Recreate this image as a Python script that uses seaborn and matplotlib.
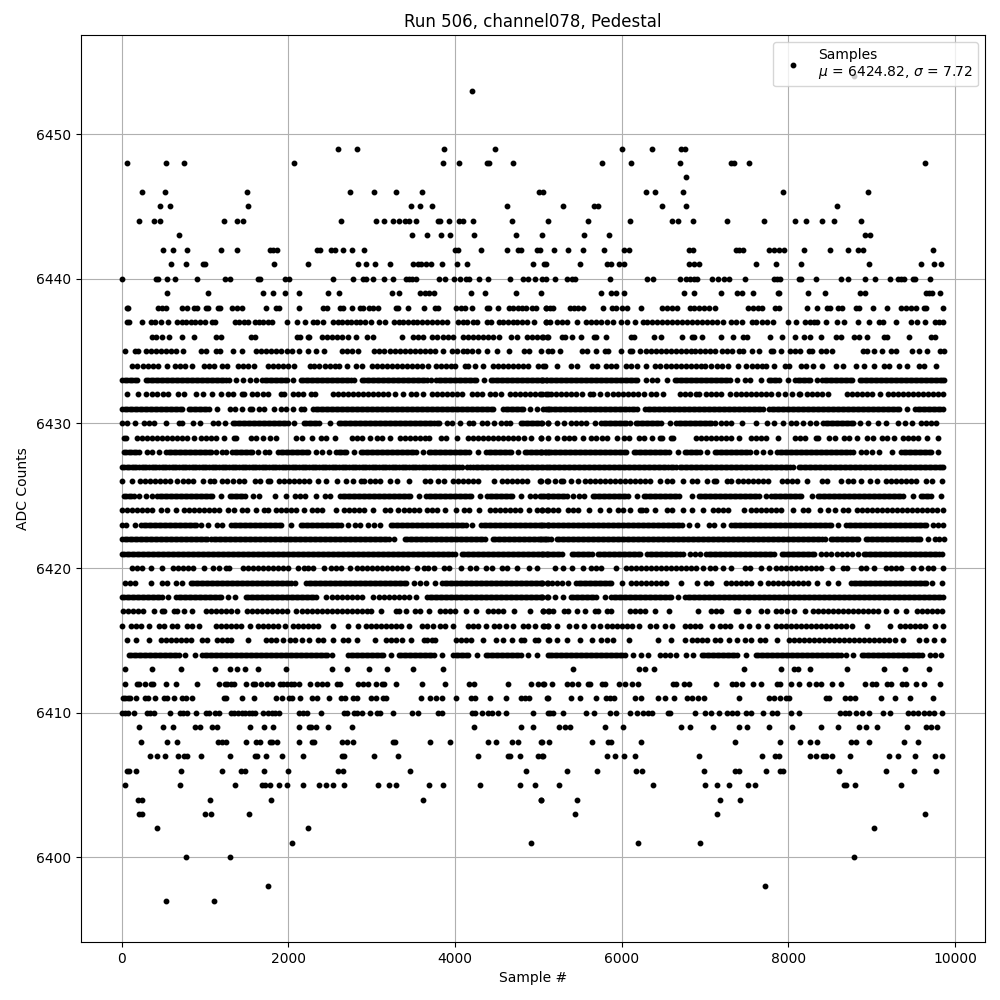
import pandas as pd
import matplotlib
matplotlib.use('Agg')
import matplotlib.pyplot as plt
import seaborn as sns

# sample numbers at each ADC level
s6454 = [8792]
s6453 = [4208]
s6449 = [2600, 2828, 3872, 4484, 6008, 6368, 6716, 6764]
s6448 = [68, 536, 752, 2072, 3860, 4052, 4388, 4412, 4700, 5768, 6116, 6704, 7316, 7352, 7532, 9644]
s6447 = [6776]
s6446 = [248, 524, 1508, 2744, 3032, 3296, 3608, 5012, 5060, 6296, 6404, 6740, 7940, 8960]
s6445 = [464, 584, 1520, 3476, 3576, 3728, 4628, 5300, 5672, 5720, 6488, 6776, 8588]
s6444 = [212, 392, 464, 1232, 1388, 1460, 2636, 3056, 3152, 3260, 3332, 3404, 3452, 3536, 3800, 3824, 3932, 4052, 4100, 4220, 4688, 5120,
         5600, 6104, 6608, 6680, 6860, 7268, 7712, 8084, 8216, 8408, 8552, 8876]
s6443 = [692, 3488, 3668, 3836, 3944, 4232, 4736, 5048, 5552, 5852, 8924, 8984]
s6442 = [500, 620, 788, 1196, 1388, 1784, 1820, 1868, 2348, 2384, 2516, 2564, 2660, 2768, 2912, 4004, 4040, 4316, 4628, 4760, 4796, 4988, 5024,
         5192, 5360, 5540, 5792, 6032, 6092, 6812, 6860, 7376, 7412, 7460, 7772, 7832, 7892, 7952, 8192, 8504, 8720, 8840, 8900, 9740]
s6441 = [596, 776, 980, 1004, 1832, 2240, 2840, 2936, 3044, 3224, 3500, 3560, 3596, 3656, 3716, 3848, 4028, 4148, 4940, 5072, 5096,
         5504, 5828, 5876, 5972, 6032, 6812, 6872, 6932, 7616, 7856, 8156, 8972, 9596, 9752, 9836]
s6440 = [8, 416, 440, 548, 644, 908, 1244, 1304, 1640, 1664, 1964, 2012, 2540, 2780, 2900, 2936, 3020, 3152, 3260, 3416, 3452, 3488, 3536, 3812, 3884,
         3992, 4064, 4136, 4172, 4292, 4400, 4664, 4820, 4880, 4964, 5048, 5096, 5204, 5348, 5408, 5444, 5864, 6308, 6380, 6704, 6776, 6824, 6872, 6908,
         7088, 7160, 7232, 7292, 7484, 7832, 7868, 7904, 8132, 8156, 8336, 8636, 8720, 8924, 9044, 9224, 9320, 9356, 9392, 9500, 9524, 9704]
s6439 = [548, 1040, 1700, 1820, 1964, 2132, 2480, 2612, 3248, 3332, 3584, 3644, 3692, 3752, 4196, 4364, 4736, 5036, 5756, 5876, 5936, 6032, 6752, 6872,
         7196, 7388, 7448, 7580, 7880, 7892, 8240, 8444, 8864, 8924, 9656, 9692, 9728, 9816]
s6438 = [60, 80, 440, 488, 532, 728, 788, 868, 904, 1008, 1040, 1160, 1184, 1328, 1380, 1440, 1728, 1848, 1892, 2132, 2416, 2464, 2616, 2652, 2760, 2856, 2892,
         2968, 3020, 3072, 3288, 3320, 3440, 3632, 3756, 3792, 4016, 4068, 4120, 4200, 4388, 4412, 4520, 4648, 4700, 4752, 4800, 4852, 4928, 4972, 5088,
         5096, 5140, 5180, 5376, 5428, 5480, 5540, 5780, 5880, 5936, 6008, 6068, 6236, 6488, 6548, 6608, 6660, 6816, 6872, 6928, 6988, 7048, 7120,
         7520, 7576, 7636, 7680, 7844, 7888, 8228, 8348, 8468, 8496, 8596, 8640, 8816, 8848, 9020, 9188, 9356, 9408, 9468, 9528, 9628, 9652, 9860]
s6437 = [60, 84, 248, 348, 400, 468, 556, 668, 720, 772, 828, 880, 940, 1004, 1088, 1116, 1356, 1412, 1468, 1520, 1600, 1648, 1700, 1752, 1808, 1980, 2108, 2204,
         2296, 2344, 2412, 2540, 2592, 2644, 2700, 2752, 2808, 2860, 2920, 2988, 3088, 3160, 3272, 3328, 3380, 3440, 3492, 3548, 3600, 3660, 3720, 3780, 3840, 3908,
         4040, 4092, 4148, 4212, 4268, 4380, 4428, 4528, 4580, 4636, 4692, 4748, 4800, 4860, 4948, 5088,
         5096, 5144, 5228, 5280, 5348, 5468, 5576, 5628, 5688, 5748, 5828, 5892, 5988, 6068, 6156, 6256, 6308, 6368, 6428, 6488, 6548, 6608, 6668, 6728, 6788,
         6848, 6908, 6968, 7028, 7088, 7148, 7220, 7308, 7368, 7440, 7564, 7616, 7680, 7748, 7812, 8000, 8088, 8196, 8256, 8312, 8348, 8456, 8588, 8668, 8840, 8968,
         9084, 9140, 9296, 9476, 9540, 9640, 9756, 9808, 9860]
s6436 = [360, 412, 480, 572, 728, 872, 1128, 1188, 1548, 1604, 2108, 2140, 2236, 2252, 2408, 2460, 2520, 2580, 2640, 2720, 2812, 2940, 3012, 3368, 3500, 3560, 3612,
         3728, 3780, 3860, 3920, 3972, 4100, 4160, 4212, 4280, 4340, 4400, 4460, 4532, 4676, 4748, 4868, 4920, 4980, 5052, 5112,
         5048, 5104, 5280, 5320, 5408, 5508, 5668, 5696, 5816, 6112, 6148, 6388, 6476, 6720, 6840, 6868, 6968, 7196, 7340, 7456, 7508, 7780, 7928, 8076, 8188, 8256,
         8396, 8576, 8628, 8792, 8848, 8940, 9144, 9180, 9448, 9712, 9764]
s6435 = [44, 156, 192, 296, 348, 408, 468, 528, 588, 652, 740, 956, 1012, 1128, 1184, 1340, 1448, 1616, 1672, 1728, 1788, 1848, 1908, 1980, 2040, 2132, 2240, 2336, 2428,
         2648, 2700, 2760, 2840, 3032, 3092, 3152, 3220, 3280, 3340, 3400, 3460, 3520, 3580, 3640, 3700, 3760, 3860, 3968, 4028, 4100, 4140, 4200, 4280, 4380, 4500, 4644,
         4828, 4892, 5028, 5120, 5168, 5256, 5528, 5588, 5696, 5796, 5840, 5988, 6096, 6128, 6224, 6288, 6348, 6408, 6468, 6528, 6588, 6648, 6708, 6768, 6828, 6880, 6936,
         7004, 7060, 7120, 7200, 7268, 7328, 7408, 7460, 7564, 7648, 7796, 7812, 7908, 8016, 8080, 8140, 8244, 8280, 8388, 8448, 8528, 8896, 8948, 9028, 9120, 9228, 9288,
         9484, 9568, 9668, 9816, 9864]
s6434 = [128, 188, 252, 320, 380, 440, 540, 636, 700, 760, 840, 992, 1052, 1104, 1208, 1268, 1400, 1460, 1520, 1592, 1760, 1820, 1880, 1940, 2000, 2072, 2256, 2312, 2372,
         2436, 2500, 2560, 2612, 2708, 2808, 2880, 3008, 3068, 3128, 3188, 3248, 3308, 3368, 3428, 3488, 3540, 3600, 3680, 3768, 3828, 3888, 3948, 4000, 4120, 4152, 4240, 4340,
         4460, 4520, 4580, 4640, 4700, 4760, 4820, 4872, 5000, 5080, 5056, 5220, 5396, 5460, 5648, 5700, 5808, 5868, 5936, 6056, 6108, 6188, 6288, 6404, 6464, 6528, 6588, 6648,
         6708, 6768, 6828, 6888, 6948, 7000, 7076, 7148, 7200, 7280, 7396, 7496, 7568, 7628, 7680, 7736, 7828, 7956, 8008, 8148, 8208, 8300, 8408, 8568, 8660, 8808, 8908, 9028,
         9148, 9208, 9328, 9428, 9564, 9628, 9768]
s6433 = [8, 68, 128, 180, 288, 348, 408, 468, 528, 588, 648, 708, 768, 828, 888, 948, 1008, 1068, 1128, 1188, 1248, 1292, 1368, 1452, 1536, 1612, 1688, 1748, 1808, 1868, 1928, 1988, 2060,
         2148, 2208, 2268, 2328, 2388, 2448, 2508, 2568, 2628, 2688, 2748, 2788, 2880, 2940, 3000, 3060, 3120, 3180, 3240, 3300, 3360, 3420, 3480, 3540, 3600, 3660, 3708,
         3776, 3836, 3896, 3956, 4016, 4076, 4136, 4196, 4256, 4348, 4428, 4488, 4548, 4608, 4668, 4728, 4788, 4848, 4908, 4968, 5028, 5088,
         5040, 5108, 5168, 5228, 5288, 5348, 5408, 5468, 5528, 5588, 5648, 5708, 5768, 5828, 5888, 5948, 6008, 6068, 6128, 6188, 6288, 6368, 6428, 6548,
         6636, 6696, 6756, 6816, 6876, 6936, 6996, 7056, 7116, 7176, 7236, 7296, 7384, 7476, 7536, 7668, 7764, 7824, 7884, 8000, 8084, 8144, 8204, 8264, 8340,
         8408, 8468, 8528, 8588, 8648, 8708, 8768, 8856, 8916, 8976, 9036, 9096, 9156, 9216, 9276, 9336, 9396, 9456, 9516, 9576, 9636, 9696, 9756, 9816, 9868,
         38, 98, 158, 318, 378, 438, 498, 558, 618, 678, 738, 798, 858, 918, 978, 1038, 1098, 1158, 1218, 1718, 1778, 1838, 1898, 1958, 2178, 2238, 2298, 2358, 2418, 2478, 2538, 2598, 2658, 2718,
         2910, 2970, 3030, 3090, 3150, 3210, 3270, 3330, 3390, 3450, 3510, 3570, 3630, 3806, 3866, 3926, 3986, 4046, 4106, 4166, 4226, 4458, 4518, 4578, 4638, 4698, 4758, 4818, 4878, 4938, 4998, 5058,
         5138, 5198, 5258, 5318, 5378, 5438, 5498, 5558, 5618, 5678, 5738, 5798, 5858, 5918, 5978, 6038, 6098, 6158, 6666, 6726, 6786, 6846, 6906, 6966, 7026, 7086, 7146, 7206, 7266, 7794, 7854,
         8114, 8174, 8234, 8438, 8498, 8558, 8618, 8678, 8738, 8886, 8946, 9006, 9066, 9126, 9186, 9246, 9306, 9366, 9426, 9486, 9546, 9606, 9666, 9726, 9786, 9846]
s6432 = [68, 200, 296, 360, 428, 500, 560, 680, 748, 888, 972, 1080, 1188, 1280, 1340, 1440, 1472, 1568, 1620, 1700, 1760, 1916, 1952, 2056, 2120, 2180, 2268, 2320,
         2540, 2600, 2660, 2720, 2780, 2840, 2900, 2960, 3020, 3080, 3140, 3200, 3284, 3380, 3468, 3532, 3620, 3720, 3780, 3840, 3900, 3960, 4020, 4080, 4200, 4260, 4320,
         4420, 4480, 4552, 4656, 4716, 4776, 4836, 4896, 4956, 5016, 5112, 5040, 5096, 5156, 5216, 5276, 5336, 5396, 5456, 5520, 5616, 5652, 5740, 5828, 5900, 5960, 6020, 6080,
         6140, 6200, 6268, 6348, 6408, 6500, 6696, 6756, 6820, 6896, 6932, 7016, 7076, 7136, 7196, 7300, 7376, 7436, 7496, 7556, 7616, 7676, 7736, 7796, 7880, 7964, 8040, 8124, 8140,
         8228, 8288, 8348, 8408, 8480, 8708, 8768, 8828, 8888, 8948, 9008, 9100, 9196, 9256, 9316, 9376, 9436, 9496, 9556, 9616, 9676, 9736, 9796, 9860]
s6431 = [8, 68, 128, 188, 248, 308, 368, 428, 488, 548, 608, 668, 728, 808, 868, 928, 988, 1048, 1140, 1296, 1356, 1440, 1536, 1560, 1648, 1708, 1824, 1908, 1968, 2052, 2148, 2184,
         2300, 2360, 2420, 2480, 2540, 2600, 2660, 2720, 2780, 2840, 2900, 2960, 3020, 3080, 3140, 3200, 3260, 3320, 3380, 3440, 3500, 3560, 3620, 3680, 3740, 3800, 3860, 3920, 3980,
         4040, 4100, 4160, 4220, 4280, 4340, 4400, 4460, 4580, 4640, 4700, 4760, 4820, 4900, 4980, 5060, 5120,
         5096, 5156, 5216, 5276, 5336, 5396, 5456, 5516, 5576, 5636, 5696, 5756, 5816, 5876, 5936, 5996, 6056, 6120, 6180, 6284, 6344, 6404, 6464, 6524, 6584, 6644, 6704, 6764, 6824,
         6884, 6944, 7004, 7064, 7124, 7184, 7244, 7304, 7364, 7424, 7484, 7544, 7604, 7664, 7700, 7772, 7832, 7892, 7952, 8012, 8072, 8132, 8192, 8252, 8312, 8372, 8432, 8492, 8552,
         8612, 8672, 8732, 8792, 8852, 8912, 8972, 9032, 9092, 9152, 9212, 9272, 9332, 9420, 9524, 9584, 9644, 9704, 9764, 9824, 9860,
         38, 98, 158, 218, 278, 338, 398, 458, 518, 578, 638, 698, 838, 898, 958, 1018, 2330, 2390, 2450, 2510, 2570, 2630, 2690, 2750, 2810, 2870, 2930, 2990, 3050, 3110, 3170, 3230, 3290, 3350, 3410, 3470,
         3530, 3590, 3650, 3710, 3770, 3830, 3890, 3950, 4010, 4070, 4130, 4190, 4250, 4310, 4370, 4430, 4610, 4670, 4730, 4790, 5126, 5186, 5246, 5306, 5366, 5426, 5486, 5546, 5606, 5666, 5726, 5786, 5846,
         5906, 5966, 6026, 6088, 6150, 6314, 6374, 6434, 6494, 6554, 6614, 6674, 6734, 6794, 6854, 6914, 6974, 7034, 7094, 7154, 7214, 7274, 7334, 7394, 7454, 7514, 7574, 7634, 7802, 7862, 7922, 7982, 8042,
         8102, 8162, 8222, 8282, 8342, 8402, 8462, 8522, 8582, 8642, 8702, 8762, 8822, 8882, 8942, 9002, 9062, 9122, 9182, 9242, 9302, 9554, 9614, 9674, 9734, 9794]
s6430 = [8, 68, 160, 268, 328, 388, 528, 688, 720, 856, 944, 1096, 1156, 1240, 1336, 1396, 1456, 1516, 1576, 1636, 1696, 1756, 1816, 1876, 1936, 1996, 2072, 2188, 2248, 2308, 2368, 2504,
         2608, 2668, 2728, 2788, 2848, 2908, 2968, 3028, 3088, 3148, 3208, 3268, 3328, 3388, 3448, 3508, 3568, 3628, 3688, 3748, 3812, 3900, 3960, 4064, 4168, 4212, 4328, 4388, 4464,
         4548, 4608, 4664, 4788, 4848, 4908, 4968, 5028, 5112, 5040, 5120, 5228, 5308, 5388, 5448, 5508, 5568, 5680, 5756, 5816, 5876, 5936, 5996, 6056, 6100, 6168, 6228, 6288, 6348,
         6408, 6468, 6580, 6656, 6716, 6776, 6836, 6896, 6956, 7016, 7076, 7120, 7196, 7256, 7316, 7448, 7616, 7740, 7828, 7932, 8028, 8088, 8172, 8256, 8332, 8420, 8480, 8540, 8600,
         8660, 8720, 8780, 8860, 8956, 9080, 9176, 9320, 9396, 9480, 9596, 9656, 9716, 9768,
         1366, 1426, 1486, 1546, 1606, 1666, 1726, 1786, 1846, 1906, 1966, 2218, 2278, 2338, 2638, 2698, 2758, 2818, 2878, 2938, 2998, 3058, 3118, 3178, 3238, 3298, 3358, 3418, 3478, 3538, 3598, 3658, 3718, 3780,
         4818, 4878, 4938, 4998, 5786, 5846, 5906, 5966, 6026, 6198, 6258, 6318, 6378, 6438, 6686, 6746, 6806, 6866, 6926, 6986, 7046, 8450, 8510, 8570, 8630, 8690, 8750]
s6429 = [28, 52, 180, 240, 300, 360, 420, 480, 540, 600, 660, 720, 780, 872, 956, 1016, 1076, 1136, 1224, 1348, 1372, 1556, 1616, 1692, 1780, 1852, 2088, 2168, 2284, 2388, 2448, 2560,
         2760, 2820, 2880, 2984, 3068, 3128, 3224, 3336, 3396, 3456, 3516, 3576, 3636, 3692, 3828, 3888, 4024, 4160, 4220, 4280, 4340, 4400, 4460, 4520, 4580, 4640, 4700, 4760, 4832, 4908, 5032,
         5028, 5116, 5220, 5308, 5368, 5428, 5540, 5628, 5688, 5760, 5828, 5948, 6028, 6088, 6204, 6264, 6360, 6456, 6480, 6588, 6612, 6896, 6956, 7016, 7076, 7136, 7196, 7256, 7316, 7408,
         7556, 7616, 7676, 7736, 7880, 8084, 8144, 8204, 8336, 8360, 8484, 8560, 8668, 8728, 8828, 8948, 9020, 9124, 9184, 9272, 9376, 9436, 9496, 9556, 9668, 9792]
s6428 = [28, 88, 148, 208, 304, 368, 452, 536, 596, 656, 716, 776, 836, 896, 956, 1016, 1076, 1132, 1208, 1252, 1328, 1388, 1448, 1508, 1568, 1632, 1716, 1772, 1880, 1940, 2000, 2060, 2120, 2180, 2240, 2332,
         2408, 2492, 2576, 2636, 2696, 2792, 2868, 2928, 2988, 3048, 3108, 3168, 3228, 3288, 3348, 3408, 3468, 3528, 3612, 3688, 3748, 3808, 3868, 3928, 3988, 4048, 4108, 4168, 4280,
         4376, 4436, 4496, 4556, 4616, 4676, 4752, 4840, 4900, 4960, 5020, 5080, 5120, 5036, 5096, 5156, 5216, 5276, 5336, 5396, 5456, 5516, 5576, 5636, 5696, 5756, 5816, 5876, 5936, 5996, 6056,
         6148, 6208, 6268, 6328, 6388, 6448, 6508, 6568, 6680, 6756, 6816, 6876, 6936, 7028, 7116, 7176, 7236, 7296, 7356, 7416, 7476, 7536, 7612, 7696, 7780,
         7868, 7928, 7988, 8048, 8108, 8168, 8228, 8288, 8348, 8408, 8468, 8528, 8588, 8648, 8708, 8772, 8868, 8928, 9008, 9088, 9240, 9356, 9416, 9476, 9536, 9596, 9656, 9716, 9800,
         58, 118, 178, 566, 626, 686, 746, 806, 866, 926, 986, 1046, 1358, 1418, 1478, 1538, 1910, 1970, 2030, 2090, 2150, 2210, 2606, 2666, 2898, 2958, 3018, 3078, 3138, 3198, 3258, 3318, 3378, 3438, 3498,
         3718, 3778, 3838, 3898, 3958, 4018, 4078, 4138, 4406, 4466, 4526, 4586, 4646, 4870, 4930, 4990, 5050, 5126, 5186, 5246, 5306, 5366, 5426, 5486, 5546, 5606, 5666, 5726, 5786, 5846, 5906, 5966, 6026,
         6178, 6238, 6298, 6358, 6418, 6478, 6538, 6786, 6846, 6906, 7146, 7206, 7266, 7326, 7386, 7446, 7506, 7898, 7958, 8018, 8078, 8138, 8198, 8258, 8318, 8378, 8438, 8498, 8558, 8618, 8678, 8738,
         9386, 9446, 9506, 9566, 9626, 9686]
s6427 = [4, 60, 120, 176, 240, 296, 360, 416, 480, 536, 600, 656, 720, 776, 840, 896, 960, 1016, 1080, 1136, 1200, 1256, 1320, 1376, 1440, 1496, 1560, 1616, 1680, 1736, 1800, 1856, 1920, 1976,
         2040, 2096, 2160, 2216, 2280, 2336, 2400, 2456, 2520, 2576, 2640, 2696, 2760, 2816, 2880, 2936, 3000, 3056, 3120, 3176, 3240, 3296, 3360, 3416, 3480, 3536, 3600, 3656, 3720, 3776, 3840, 3896, 3960, 4016, 4080,
         4144, 4220, 4276, 4340, 4396, 4460, 4516, 4580, 4636, 4700, 4756, 4820, 4876, 4940, 4996, 5060, 5116, 5176, 5236, 5296, 5356, 5416, 5476, 5536, 5596, 5656, 5716, 5776, 5836, 5896, 5956, 6016,
         6076, 6136, 6196, 6256, 6316, 6376, 6436, 6496, 6556, 6620, 6652, 6696, 6756, 6816, 6876, 6936, 6996, 7056, 7116, 7176, 7236, 7296, 7356, 7416, 7476, 7536, 7596, 7656, 7716, 7776, 7836, 7896, 7956, 8016, 8060,
         8124, 8184, 8244, 8304, 8364, 8424, 8484, 8544, 8604, 8664, 8724, 8784, 8844, 8904, 8964, 9024, 9084, 9144, 9204, 9264, 9324, 9384, 9444, 9504, 9564, 9624, 9684, 9744, 9804, 9860,
         32, 90, 148, 208, 268, 328, 388, 448, 508, 568, 628, 688, 748, 808, 868, 928, 988, 1048, 1108, 1168, 1228, 1288, 1348, 1408, 1468, 1528, 1588, 1648, 1708, 1768, 1828, 1888, 1948, 2008, 2068, 2128, 2188, 2248,
         2308, 2368, 2428, 2488, 2548, 2608, 2668, 2728, 2788, 2848, 2908, 2968, 3028, 3088, 3148, 3208, 3268, 3328, 3388, 3448, 3508, 3568, 3628, 3688, 3748, 3808, 3868, 3928, 3988, 4048, 4180, 4248, 4308, 4368, 4428,
         4488, 4548, 4608, 4668, 4728, 4788, 4848, 4908, 4968, 5028, 5088, 5146, 5206, 5266, 5326, 5386, 5446, 5506, 5566, 5626, 5686, 5746, 5806, 5866, 5926, 5986, 6046, 6106, 6166, 6226, 6286, 6346, 6406, 6466, 6526, 6588,
         6726, 6786, 6846, 6906, 6966, 7026, 7086, 7146, 7206, 7266, 7326, 7386, 7446, 7506, 7566, 7626, 7686, 7746, 7806, 7866, 7926, 7986, 8154, 8214, 8274, 8334, 8394, 8454, 8514, 8574, 8634, 8694, 8754, 8814, 8874,
         8934, 8994, 9054, 9114, 9174, 9234, 9294, 9354, 9414, 9474, 9534, 9594, 9654, 9714, 9774, 9834]
s6426 = [8, 120, 216, 276, 336, 396, 456, 516, 576, 664, 740, 800, 860, 972, 1056, 1104, 1200, 1260, 1332, 1408, 1464, 1596, 1656, 1756, 1780, 1888, 1948, 2008, 2068, 2128, 2188, 2248, 2352, 2456, 2584, 2696, 2780,
         2868, 2904, 2980, 3040, 3100, 3224, 3308, 3452, 3640, 3700, 3792, 3872, 3980, 4040, 4100, 4160, 4220, 4280, 4472, 4568, 4628, 4688, 4748, 4808, 4868, 5032, 5120, 5020, 5108, 5200, 5276, 5300, 5388, 5480,
         5564, 5624, 5684, 5744, 5804, 5864, 5924, 5984, 6044, 6104, 6164, 6224, 6284, 6344, 6460, 6548, 6608, 6740, 6844, 6900, 7024, 7108, 7132, 7260, 7308, 7396, 7456, 7516, 7576, 7636, 7696, 7760,
         7924, 7984, 8044, 8104, 8220, 8408, 8468, 8628, 8716, 8776, 8868, 8976, 9060, 9176, 9236, 9296, 9356, 9416, 9476, 9536, 9652, 9724, 9840]
s6425 = [28, 88, 148, 208, 292, 368, 428, 488, 548, 608, 668, 728, 788, 848, 908, 968, 1028, 1088, 1192, 1296, 1356, 1416, 1476, 1572, 1652, 1836, 1972, 2076, 2136, 2196, 2332, 2436, 2504,
         2624, 2684, 2744, 2804, 2864, 2924, 2984, 3044, 3104, 3164, 3224, 3284, 3344, 3404, 3464, 3564, 3656, 3716, 3776, 3836, 3896, 3956, 4016, 4076, 4136, 4196, 4304,
         4388, 4448, 4508, 4568, 4628, 4688, 4792, 4896, 4956, 5016, 5112, 5040, 5100, 5160, 5220, 5280, 5340, 5420, 5484, 5548, 5656, 5716, 5776, 5836, 5896, 5956, 6016, 6076, 6188,
         6268, 6328, 6388, 6448, 6508, 6568, 6628, 6688, 6840, 6924, 6984, 7044, 7104, 7164, 7224, 7284, 7344, 7404, 7464, 7524, 7584, 7644, 7732, 7796, 7856, 7916, 7976, 8036, 8096, 8156, 8280,
         8356, 8416, 8476, 8536, 8596, 8656, 8716, 8776, 8836, 8896, 8956, 9016, 9076, 9136, 9196, 9256, 9316, 9376, 9500, 9588, 9648, 9708, 9828,
         58, 118, 458, 518, 578, 638, 698, 758, 818, 878, 938, 998, 1058, 1326, 1386, 1446, 2654, 2714, 2774, 2834, 2894, 2954, 3014, 3074, 3134, 3194, 3254, 3314, 3374, 3434, 3686, 3746, 3806, 3866, 3926, 3986, 4046, 4106, 4166,
         4418, 4478, 4538, 4598, 4658, 5070, 5130, 5190, 5250, 5310, 5686, 5746, 5806, 5866, 5926, 5986, 6046, 6298, 6358, 6418, 6478, 6538, 6598, 6658, 6954, 7014, 7074, 7134, 7194, 7254, 7314, 7374, 7434, 7494, 7554, 7614,
         7826, 7886, 7946, 8006, 8066, 8126, 8386, 8446, 8506, 8566, 8626, 8686, 8746, 8806, 8866, 8926, 8986, 9046, 9106, 9166, 9226, 9286, 9346, 9618, 9678]
s6424 = [8, 68, 128, 188, 248, 308, 368, 472, 548, 652, 752, 812, 872, 932, 992, 1052, 1112, 1172, 1272, 1348, 1440, 1500, 1608, 1704, 1760, 1848, 1908, 1968, 2028, 2088, 2192, 2280, 2340, 2400, 2576,
         2664, 2724, 2784, 2844, 2904, 3012, 3156, 3216, 3320, 3392, 3452, 3512, 3572, 3664, 3728, 3788, 3880, 4016, 4108, 4168, 4292, 4416, 4476, 4536, 4596, 4656, 4716, 4776, 4892, 4988, 5048, 5112,
         5040, 5108, 5180, 5240, 5356, 5416, 5476, 5612, 5736, 5852, 5956, 6016, 6100, 6216, 6240, 6296, 6396, 6548, 6608, 6740, 6840, 6976, 7096, 7156, 7216, 7276, 7468, 7556, 7616, 7676, 7736, 7796, 7856, 7916, 8060,
         8176, 8236, 8380, 8476, 8560, 8656, 8720, 8828, 8888, 8948, 9008, 9068, 9128, 9188, 9248, 9308, 9368, 9428, 9488, 9548, 9608, 9668, 9728, 9788, 9852]
s6423 = [0, 56, 160, 236, 296, 356, 416, 476, 536, 596, 656, 716, 776, 836, 896, 956, 1040, 1148, 1200, 1316, 1376, 1436, 1496, 1556, 1616, 1676, 1736, 1796, 1856, 1916, 2032,
         2148, 2208, 2268, 2328, 2388, 2448, 2508, 2568, 2628, 2712, 2800, 2860, 2952, 3028, 3104, 3228, 3288, 3348, 3408, 3468, 3528, 3588, 3648, 3708, 3768, 3828, 3888, 3948, 4008, 4068, 4128, 4200,
         4316, 4376, 4436, 4496, 4556, 4616, 4676, 4736, 4796, 4856, 4916, 4976, 5036, 5112, 5040, 5100, 5160, 5220, 5280, 5340, 5400, 5460, 5520, 5580, 5640, 5700, 5760, 5820, 5880, 5940, 6000, 6060, 6120, 6180,
         6240, 6300, 6360, 6420, 6480, 6540, 6600, 6660, 6720, 6812, 6908, 7044, 7104, 7220, 7316, 7376, 7436, 7496, 7556, 7616, 7676, 7736, 7796, 7856, 7916, 7976, 8036, 8096, 8156, 8216, 8276, 8336, 8396, 8456, 8516, 8600,
         8696, 8756, 8816, 8876, 8936, 8996, 9056, 9116, 9176, 9236, 9296, 9356, 9416, 9476, 9536, 9596, 9656, 9740, 9796, 9856,
         266, 326, 386, 446, 506, 566, 626, 686, 746, 806, 866, 1346, 1406, 1466, 1526, 1586, 1646, 1706, 1766, 1826, 1886, 2178, 2238, 2298, 2358, 2418, 2478, 2538, 2598, 3258, 3318, 3378, 3438, 3498, 3558, 3618, 3678, 3738,
         3798, 3858, 3918, 3978, 4038, 4098, 4346, 4406, 4466, 4526, 4586, 4646, 4706, 4766, 4826, 4886, 4946, 5006, 5070, 5130, 5190, 5250, 5310, 5370, 5430, 5490, 5550, 5610, 5670, 5730, 5790, 5850, 5910, 5970, 6030, 6090, 6150,
         6210, 6270, 6330, 6390, 6450, 6510, 6570, 6630, 6690, 7346, 7406, 7466, 7526, 7586, 7646, 7706, 7766, 7826, 7886, 7946, 8006, 8066, 8126, 8186, 8246, 8306, 8366, 8426, 8486, 8726, 8786, 8846, 8906, 8966, 9026, 9086, 9146,
         9206, 9266, 9326, 9386, 9446, 9506, 9566, 9626]
s6422 = [8, 68, 128, 188, 248, 308, 368, 428, 488, 548, 608, 668, 728, 788, 848, 908, 968, 1024, 1076, 1104, 1164, 1224, 1284, 1344, 1404, 1464, 1524, 1584, 1644, 1704, 1764, 1824, 1884, 1944, 2004, 2064, 2124, 2184,
         2244, 2304, 2364, 2424, 2484, 2544, 2604, 2664, 2724, 2784, 2844, 2904, 2964, 3024, 3084, 3144, 3204, 3270, 3400, 3460, 3520, 3580, 3640, 3700, 3760, 3820, 3880, 3940, 4000, 4060, 4120, 4180, 4240, 4300, 4360,
         4456, 4516, 4576, 4636, 4696, 4756, 4816, 4876, 4936, 4996, 5056, 5116, 5036, 5096, 5150, 5220, 5280, 5340, 5400, 5460, 5520, 5580, 5640, 5700, 5760, 5820, 5880, 5940, 6000, 6060, 6120, 6180, 6240, 6300,
         6360, 6420, 6480, 6540, 6600, 6660, 6720, 6780, 6840, 6900, 6960, 7020, 7080, 7140, 7200, 7260, 7320, 7380, 7440, 7500, 7560, 7620, 7680, 7740, 7800, 7860, 7920, 7980, 8040, 8100, 8160, 8220, 8280, 8340, 8400, 8440,
         8512, 8572, 8632, 8692, 8752, 8812, 8840, 8930, 8990, 9050, 9110, 9170, 9230, 9290, 9350, 9410, 9470, 9530, 9580, 9676, 9756, 9808, 9868,
         38, 98, 158, 218, 278, 338, 398, 458, 518, 578, 638, 698, 758, 818, 878, 938, 998, 1134, 1194, 1254, 1314, 1374, 1434, 1494, 1554, 1614, 1674, 1734, 1794, 1854, 1914, 1974, 2034, 2094, 2154, 2214, 2274, 2334, 2394, 2454,
         2514, 2574, 2634, 2694, 2754, 2814, 2874, 2934, 2994, 3054, 3114, 3174, 3430, 3490, 3550, 3610, 3670, 3730, 3790, 3850, 3910, 3970, 4030, 4090, 4150, 4210, 4270, 4330, 4486, 4546, 4606, 4666, 4726, 4786, 4846, 4906, 4966,
         5026, 5086, 5250, 5310, 5370, 5430, 5490, 5550, 5610, 5670, 5730, 5790, 5850, 5910, 5970, 6030, 6090, 6150, 6210, 6270, 6330, 6390, 6450, 6510, 6570, 6630, 6690, 6750, 6810, 6870, 6930, 6990, 7050, 7110, 7170, 7230, 7290,
         7350, 7410, 7470, 7530, 7590, 7650, 7710, 7770, 7830, 7890, 7950, 8010, 8070, 8130, 8190, 8250, 8310, 8370, 8542, 8602, 8662, 8722, 8782, 8960, 9020, 9080, 9140, 9200, 9260, 9320, 9380, 9440, 9500, 9555]
s6421 = [4, 64, 124, 184, 244, 304, 364, 424, 484, 544, 604, 664, 724, 784, 844, 904, 964, 1024, 1084, 1144, 1204, 1264, 1324, 1384, 1444, 1504, 1564, 1624, 1684, 1744, 1804, 1864, 1924, 1984, 2044, 2104, 2164, 2224,
         2284, 2344, 2404, 2464, 2524, 2584, 2644, 2704, 2764, 2824, 2884, 2944, 3004, 3064, 3124, 3184, 3244, 3304, 3364, 3424, 3484, 3544, 3604, 3664, 3724, 3784, 3844, 3904, 3964, 4000,
         4084, 4144, 4204, 4264, 4324, 4384, 4444, 4504, 4564, 4624, 4684, 4744, 4804, 4864, 4924, 4984, 5044, 5104, 5040, 5100, 5160, 5220, 5280, 5400, 5460, 5520, 5580, 5640, 5716, 5776, 5836, 5896, 5956, 6016, 6076, 6136, 6196, 6226,
         6308, 6368, 6428, 6488, 6548, 6608, 6668, 6740, 6816, 6876, 6940, 7016, 7076, 7136, 7196, 7256, 7316, 7376, 7436, 7496, 7556, 7616, 7676, 7736, 7796, 7828, 7924, 7984, 8044, 8104, 8164, 8224, 8284, 8308,
         8388, 8448, 8508, 8588, 8648, 8708, 8768, 8840, 8908, 8968, 9028, 9088, 9148, 9208, 9268, 9328, 9388, 9448, 9508, 9568, 9628, 9688, 9748, 9808, 9840,
         34, 94, 154, 214, 274, 334, 394, 454, 514, 574, 634, 694, 754, 814, 874, 934, 994, 1054, 1114, 1174, 1234, 1294, 1354, 1414, 1474, 1534, 1594, 1654, 1714, 1774, 1834, 1894, 1954, 2014, 2074, 2134, 2194, 2254, 2314, 2374,
         2434, 2494, 2554, 2614, 2674, 2734, 2794, 2854, 2914, 2974, 3034, 3094, 3154, 3214, 3274, 3334, 3394, 3454, 3514, 3574, 3634, 3694, 3754, 3814, 3874, 3934, 4114, 4174, 4234, 4294, 4354, 4414, 4474, 4534, 4594, 4654, 4714,
         4774, 4834, 4894, 4954, 5014, 5074, 5130, 5190, 5250, 5430, 5490, 5550, 5610, 5746, 5806, 5866, 5926, 5986, 6046, 6106, 6166, 6338, 6398, 6458, 6518, 6578, 6638, 6704, 7046, 7106, 7166, 7226, 7286, 7346, 7406, 7466, 7526,
         7586, 7646, 7706, 7766, 7954, 8014, 8074, 8134, 8194, 8254, 8938, 8998, 9058, 9118, 9178, 9238, 9298, 9358, 9418, 9478, 9538, 9598, 9658, 9718, 9778]
s6420 = [128, 188, 248, 352, 488, 620, 680, 740, 800, 860, 984, 1096, 1172, 1256, 1284, 1456, 1516, 1576, 1636, 1696, 1756, 1816, 1876, 1936, 1996, 2112, 2192, 2240, 2300, 2428, 2508, 2568, 2628, 2744,
         2828, 2888, 2948, 3008, 3068, 3128, 3188, 3248, 3308, 3368, 3428, 3544, 3628, 3680, 3752, 3868, 3928, 4072, 4176, 4252, 4368, 4440, 4568, 4628, 4744, 4888, 4984,
         5196, 5292, 5404, 5540, 5636, 5696, 5756, 5932, 6048, 6108, 6168, 6228, 6288, 6348, 6408, 6468, 6528, 6588, 6648, 6708, 6768, 6828, 6888, 6980, 7056, 7116, 7220, 7316, 7476, 7536, 7668, 7768,
         7856, 7916, 7976, 8036, 8096, 8156, 8216, 8276, 8336, 8396, 8520, 8656, 8700, 8876, 8936, 9028, 9176, 9236, 9296, 9356, 9500, 9588, 9676, 9736, 9852]
s6419 = [40, 100, 160, 352, 480, 544, 648, 720, 828, 888, 948, 1008, 1068, 1128, 1188, 1248, 1308, 1368, 1428, 1488, 1548, 1608, 1668, 1728, 1788, 1848, 1908, 1968, 2028, 2080,
         2216, 2276, 2336, 2396, 2456, 2516, 2576, 2636, 2696, 2756, 2816, 2876, 2936, 2996, 3056, 3116, 3176, 3236, 3296, 3356, 3416, 3504, 3576, 3652, 3760,
         3848, 3908, 3968, 4028, 4088, 4148, 4208, 4268, 4328, 4388, 4448, 4508, 4568, 4628, 4688, 4748, 4808, 4868, 4928, 4988, 5048, 5112,
         5040, 5100, 5160, 5220, 5280, 5360, 5456, 5516, 5576, 5636, 5696, 5756, 5816, 5876, 6000, 6116, 6176, 6236, 6296, 6356, 6416, 6476, 6536, 6708, 6900, 7016, 7068,
         7248, 7308, 7368, 7428, 7488, 7548, 7660, 7756, 7816, 7876, 7936, 7996, 8056, 8116, 8176, 8236, 8348, 8476, 8600,
         8756, 8816, 8876, 8936, 8996, 9056, 9116, 9176, 9236, 9296, 9356, 9416, 9476, 9536, 9596, 9652, 9724, 9840,
         858, 918, 978, 1038, 1098, 1158, 1218, 1278, 1338, 1398, 1458, 1518, 1578, 1638, 1698, 1758, 1818, 1878, 1938, 1998, 2246, 2306, 2366, 2426, 2486, 2546, 2606, 2666, 2726, 2786, 2846, 2906, 2966, 3026, 3086, 3146, 3206,
         3266, 3326, 3386, 3878, 3938, 3998, 4058, 4118, 4178, 4238, 4298, 4358, 4418, 4478, 4538, 4598, 4658, 4718, 4778, 4838, 4898, 4958, 5018, 5486, 5546, 5606, 5666, 5726, 5786, 5846, 8786, 8846, 8906, 8966, 9026, 9086, 9146,
         9206, 9266, 9326, 9386, 9446, 9506, 9566, 9626]
s6418 = [0, 60, 120, 180, 240, 300, 360, 420, 480, 560, 656, 716, 776, 836, 896, 956, 1016, 1076, 1136, 1196, 1272, 1360, 1488, 1548, 1608, 1668, 1728, 1788, 1848, 1908, 1968, 2028, 2088, 2148, 2208, 2268, 2328, 2452,
         2528, 2588, 2648, 2708, 2768, 2828, 2888, 3012, 3088, 3148, 3208, 3268, 3328, 3388, 3448, 3532, 3668, 3728, 3788, 3848, 3908, 3968, 4028, 4088, 4148, 4208, 4268, 4328, 4388, 4448, 4508, 4568, 4628, 4688, 4748, 4808,
         4868, 4928, 4988, 5048, 5112, 5040, 5100, 5200, 5300, 5388, 5448, 5508, 5568, 5628, 5688, 5800, 5876, 5936, 5996, 6056, 6116, 6176, 6236, 6296, 6356, 6416, 6476, 6536, 6596, 6680,
         6764, 6824, 6884, 6944, 7004, 7064, 7124, 7184, 7244, 7304, 7364, 7424, 7484, 7544, 7604, 7664, 7724, 7784, 7844, 7904, 7964, 8024, 8084, 8144, 8204, 8264, 8324, 8384, 8444, 8504, 8564, 8624, 8684, 8744, 8804, 8864,
         8924, 8984, 9044, 9104, 9164, 9224, 9284, 9344, 9404, 9464, 9524, 9584, 9644, 9704, 9764, 9824, 9860,
         30, 90, 150, 210, 270, 330, 390, 450, 686, 746, 806, 866, 926, 986, 1046, 1106, 1166, 1518, 1578, 1638, 1698, 1758, 1818, 1878, 1938, 1998, 2058, 2118, 2178, 2238, 2298, 3698, 3758, 3818, 3878, 3938, 3998, 4058, 4118, 4178,
         4238, 4298, 4358, 4418, 4478, 4538, 4598, 4658, 4718, 4778, 4838, 4898, 4958, 5018, 5418, 5478, 5538, 5598, 5658, 5906, 5966, 6026, 6086, 6146, 6206, 6266, 6326, 6386, 6446, 6506, 6566, 6794, 6854, 6914, 6974, 7034, 7094,
         7154, 7214, 7274, 7334, 7394, 7454, 7514, 7574, 7634, 7694, 7754, 7814, 7874, 7934, 7994, 8054, 8114, 8174, 8234, 8294, 8354, 8414, 8474, 8534, 8594, 8654, 8714, 8774, 8834, 8894, 8954, 9014, 9074, 9134, 9194, 9254, 9314,
         9374, 9434, 9494, 9554, 9614, 9674, 9734, 9794]
s6417 = [20, 80, 140, 200, 260, 384, 480, 504, 628, 660, 744, 840, 1008, 1068, 1128, 1188, 1248, 1308, 1384, 1508, 1568, 1628, 1688, 1748, 1808, 1868, 1928, 1988, 2092, 2160,
         2220, 2280, 2340, 2400, 2460, 2520, 2580, 2640, 2700, 2760, 2820, 2880, 2940, 2992, 3108, 3288, 3332, 3416, 3516, 3576, 3692, 3820, 3880, 3940, 4000, 4132, 4256, 4400, 4460, 4520, 4580, 4712, 4900, 5056, 5112,
         5056, 5128, 5180, 5308, 5360, 5468, 5560, 5676, 5720, 5828, 5868, 6096, 6156, 6216, 6280, 6396, 6572, 6920, 7068, 7128, 7196, 7368, 7392, 7520, 7676, 7740, 7848, 7908, 7988, 8072, 8196,
         8300, 8360, 8420, 8480, 8540, 8600, 8660, 8720, 8780, 8840, 8900, 8960, 9020, 9080, 9172, 9296, 9412, 9548, 9608, 9668, 9728, 9780, 9840]
s6416 = [0, 108, 168, 228, 332, 448, 508, 600, 668, 780, 840, 924, 1128, 1188, 1248, 1308, 1368, 1428, 1544, 1632, 1692, 1752, 1812, 1872, 1964, 2056, 2116, 2176, 2236, 2296, 2356, 2532, 2720, 2840,
         2928, 2988, 3048, 3108, 3168, 3228, 3288, 3348, 3452, 3608, 3668, 3732, 3816, 3876, 3972, 4160, 4220, 4280, 4372, 4468, 4528, 4612, 4700, 4816, 4876, 4960, 5068, 5120,
         5056, 5112, 5228, 5364, 5452, 5548, 5656, 5740, 5828, 5888, 5948, 6008, 6068, 6128, 6212, 6336, 6412, 6516, 6600, 6756, 6816, 6876, 6936, 7080, 7176, 7236, 7296, 7428, 7528, 7636, 7740,
         7856, 7916, 7976, 8036, 8096, 8156, 8216, 8276, 8336, 8396, 8456, 8516, 8576, 8636, 8696, 8768, 8948, 9216, 9336, 9396, 9456, 9516, 9576, 9636, 9760, 9856]
s6415 = [60, 168, 332, 476, 536, 596, 656, 716, 776, 836, 960, 1028, 1148, 1208, 1268, 1312, 1520, 1736, 1796, 1856, 1932, 2016, 2076, 2160, 2252, 2360, 2420, 2532, 2660, 2720, 2824, 3044, 3168, 3228, 3288, 3360, 3472,
         3628, 3664, 3728, 3760, 4008, 4068, 4128, 4188, 4332, 4496, 4572, 4688, 4788, 4832, 4960, 5000, 5112, 5124, 5220, 5348, 5496, 5640, 5748, 5828, 5900, 6088, 6436, 6596, 6756, 6848, 6908, 6968, 7028, 7120, 7180,
         7284, 7380, 7484, 7548, 7664, 7724, 7868, 8004, 8064, 8124, 8184, 8244, 8304, 8364, 8424, 8484, 8544, 8604, 8664, 8724, 8784, 8844, 8904, 8964, 9024, 9084, 9144, 9204, 9280, 9380, 9564, 9652, 9748, 9852]
s6414 = [88, 148, 208, 268, 328, 388, 448, 508, 568, 628, 688, 760, 876, 968, 1028, 1088, 1148, 1208, 1268, 1328, 1388, 1448, 1508, 1568, 1628, 1688, 1748, 1808, 1868, 1928, 1988, 2048, 2108, 2168, 2228, 2288, 2348, 2408, 2468, 2520,
         2720, 2780, 2840, 2900, 2960, 3020, 3080, 3140, 3232, 3328, 3388, 3448, 3508, 3568, 3628, 3688, 3748, 3840, 3980, 4040, 4100, 4160, 4264, 4368, 4428, 4488, 4548, 4608, 4668, 4728, 4788, 4872, 4988, 5120,
         5136, 5196, 5256, 5316, 5376, 5436, 5496, 5556, 5616, 5676, 5736, 5796, 5856, 5916, 5976, 6036, 6140, 6228, 6320, 6456, 6516, 6576, 6648, 6768, 6860, 6964, 7024, 7084, 7144, 7204, 7264, 7324, 7384, 7492,
         7608, 7668, 7728, 7788, 7848, 7908, 7968, 8028, 8088, 8148, 8208, 8268, 8328, 8388, 8448, 8508, 8568, 8628, 8688, 8780, 8884, 8944, 9004, 9064, 9124, 9184, 9244, 9304, 9364, 9424, 9484, 9544, 9604, 9700, 9756, 9828,
         118, 178, 238, 298, 358, 418, 478, 538, 598, 658, 998, 1058, 1118, 1178, 1238, 1298, 1358, 1418, 1478, 1538, 1598, 1658, 1718, 1778, 1838, 1898, 1958, 2018, 2078, 2138, 2198, 2258, 2318, 2378, 2438, 2750, 2810, 2870, 2930,
         2990, 3050, 3110, 3358, 3418, 3478, 3538, 3598, 3658, 3718, 4010, 4070, 4130, 4398, 4458, 4518, 4578, 4638, 4698, 4758, 5166, 5226, 5286, 5346, 5406, 5466, 5526, 5586, 5646, 5706, 5766, 5826, 5886, 5946, 6006, 6994, 7054,
         7114, 7174, 7234, 7294, 7354, 7638, 7698, 7758, 7818, 7878, 7938, 7998, 8058, 8118, 8178, 8238, 8298, 8358, 8418, 8478, 8538, 8598, 8914, 8974, 9034, 9094, 9154, 9214, 9274, 9334, 9394, 9454, 9514, 9574]
s6413 = [44, 368, 716, 1124, 1304, 1388, 1484, 1640, 1976, 2528, 2708, 2972, 3188, 3500, 3860, 5420, 6212, 6284, 6392, 7472, 7916, 8072, 8120, 8260, 8708, 9152, 9404, 9692]
s6412 = [44, 188, 212, 284, 356, 380, 536, 656, 908, 1172, 1244, 1268, 1316, 1352, 1496, 1580, 1604, 1676, 1748, 1808, 1904, 1940, 1988, 2036, 2072, 2132, 2264, 2348, 2408, 2468, 2588, 2624, 2840, 2900, 2960, 3056, 3128, 3152,
         3296, 3608, 3884, 4172, 4232, 4640, 4916, 5000, 5072, 5060, 5168, 5348, 5408, 5480, 5600, 5624, 5768, 5804, 5972, 6044, 6128, 6200, 6620, 6656, 6752, 6812, 7136, 7328, 7376, 7448, 7580, 7676, 7868, 7904,
         8036, 8132, 8248, 8336, 8396, 8528, 8636, 8924, 9008, 9056, 9188, 9236, 9368, 9416, 9536, 9632, 9824]
s6411 = [20, 44, 80, 104, 176, 284, 320, 404, 512, 548, 632, 728, 776, 848, 1232, 1256, 1448, 1592, 1856, 1928, 2012, 2048, 2144, 2288, 2348, 2492, 2636, 2684, 2780, 2828, 2996, 3056, 3140, 3176, 3596, 3704, 3776, 3848, 4016,
         4196, 4244, 4424, 4616, 4796, 4844, 4892, 5120, 5108, 5396, 5504, 5696, 5816, 5864, 5912, 6164, 6236, 6440, 6524, 6628, 6788, 6848, 6920, 6992, 7412, 7772, 7832, 7904, 7976, 8012, 8456, 8492, 8684, 8744, 8804, 9116, 9284, 9464, 9740]
s6410 = [8, 44, 80, 152, 308, 344, 392, 584, 704, 740, 788, 896, 1016, 1052, 1124, 1172, 1316, 1352, 1400, 1448, 1484, 1532, 1568, 1604, 1700, 1760, 1808, 1844, 1892, 2132, 2180, 2228, 2396, 2672, 2708, 2792, 2828, 2888, 2984, 3068, 3104,
         3260, 3488, 3560, 3800, 3848, 4208, 4244, 4328, 4400, 4448, 4520, 4616, 4940, 5120, 5144, 5180, 5300, 5576, 5672, 5864, 5936, 6104, 6188, 6260, 6320, 6368, 6560, 6584, 6884, 7004, 7076, 7172, 7268, 7328, 7388, 7496, 7556,
         7700, 7808, 7868, 8036, 8132, 8624, 8684, 8732, 8816, 8888, 8972, 9140, 9224, 9440, 9500, 9560, 9632, 9692, 9744, 9848]
s6409 = [212, 500, 620, 884, 944, 1088, 1148, 1544, 1712, 1820, 2132, 2252, 2276, 2336, 2480, 2768, 4232, 4796, 4940, 5252, 5324, 5384, 5804, 6020, 6716, 6824, 7100, 7412, 7508, 7772, 8048, 8396, 8600, 8852, 8936, 9068, 9428, 9656, 9716, 9788]
s6408 = [236, 548, 668, 1160, 1208, 1256, 1496, 1616, 1664, 1784, 1808, 1868, 2132, 2288, 2312, 2648, 2708, 2780, 3260, 3284, 3704, 3944, 4400, 4496, 4688, 4760, 5048, 5132, 5036, 5648, 5840, 5876, 6236, 7364, 7904, 8144, 8264, 8348, 8756, 8816, 8972, 9392, 9560]
s6407 = [344, 428, 524, 680, 752, 788, 956, 1304, 1604, 1628, 1736, 1928, 2180, 2648, 2672, 3032, 3320, 4280, 4640, 4664, 4784, 5000, 5060, 5048, 5828, 5924, 6032, 6164, 6932, 7688, 7844, 7892, 8264, 8336, 8420, 8456, 8528, 8744, 9212, 9320, 9524, 9764, 9848]
s6406 = [68, 92, 176, 716, 1208, 1436, 1484, 1712, 2000, 2600, 2660, 3464, 4856, 5348, 5708, 6176, 6248, 6992, 7364, 7412, 7736, 7904, 7940, 8612, 9176, 9512, 9776]
s6405 = [44, 704, 1364, 1688, 1724, 1784, 1892, 1988, 2180, 2372, 2456, 2540, 2672, 3080, 3212, 3296, 3692, 3860, 4304, 4784, 4964, 5252, 6380, 7004, 7148, 7292, 7520, 7604, 8672, 8696, 8804, 9356]
s6404 = [200, 248, 1064, 1796, 3620, 5036, 5028, 5468, 7184, 7424]
s6403 = [212, 248, 1004, 1076, 1532, 5444, 7148, 9644]
s6402 = [428, 2240, 9032]
s6401 = [2048, 4916, 6200, 6944]
s6400 = [776, 1304, 8792]
s6398 = [1760, 7724]
s6397 = [536, 1112]

levels = [6454, 6453, 6449, 6448, 6447, 6446, 6445, 6444, 6443, 6442, 6441, 6440, 6439, 6438, 6437, 6436, 6435, 6434, 6433, 6432, 6431, 6430,
          6429, 6428, 6427, 6426, 6425, 6424, 6423, 6422, 6421, 6420, 6419, 6418, 6417, 6416, 6415, 6414, 6413, 6412, 6411, 6410,
          6409, 6408, 6407, 6406, 6405, 6404, 6403, 6402, 6401, 6400, 6398, 6397]
samples = [s6454, s6453, s6449, s6448, s6447, s6446, s6445, s6444, s6443, s6442, s6441, s6440, s6439, s6438, s6437, s6436, s6435, s6434, s6433, s6432, s6431, s6430,
           s6429, s6428, s6427, s6426, s6425, s6424, s6423, s6422, s6421, s6420, s6419, s6418, s6417, s6416, s6415, s6414, s6413, s6412, s6411, s6410,
           s6409, s6408, s6407, s6406, s6405, s6404, s6403, s6402, s6401, s6400, s6398, s6397]

data = pd.DataFrame({'sample': [x for s in samples for x in s],
                     'adc': [lev for lev, s in zip(levels, samples) for x in s]})

fig, ax = plt.subplots(figsize=(10, 10), dpi=100)
sns.lineplot(data=data, x='sample', y='adc', estimator=None, sort=False, linestyle='', marker='.',
             markersize=6.4, color='black', markeredgecolor='black', markeredgewidth=1, ax=ax,
             label='Samples\n$\\mu$ = 6424.82, $\\sigma$ = 7.72')
ax.set_title('Run 506, channel078, Pedestal')
ax.set_xlabel('Sample #')
ax.set_ylabel('ADC Counts')
ax.grid(True)
ax.legend(loc='upper right')
fig.subplots_adjust(left=0.0805, right=0.985, top=0.965, bottom=0.058)
fig.savefig('out.png', dpi=100)
